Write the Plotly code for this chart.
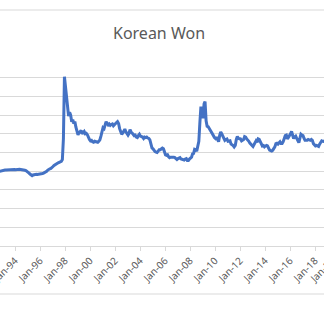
import pandas as pd
import plotly.graph_objects as go

# Monthly KRW per USD (Jan..Dec of each year)
start_year = 1992
krw_1992 = [770, 772, 775, 778, 782, 785, 790, 795, 798, 803, 806, 805]
krw_1993 = [808, 810, 812, 812, 813, 815, 818, 820, 818, 820, 818, 818]
krw_1994 = [815, 818, 820, 820, 820, 818, 818, 815, 812, 810, 806, 800]
krw_1995 = [790, 780, 770, 755, 752, 760, 765, 768, 767, 765, 766, 768]
krw_1996 = [772, 775, 776, 780, 784, 790, 800, 812, 822, 826, 830, 836]
krw_1997 = [850, 862, 870, 880, 885, 890, 895, 900, 905, 925, 1150, 1810]
krw_1998 = [1700, 1560, 1450, 1390, 1430, 1400, 1330, 1350, 1310, 1330, 1270, 1220]
krw_1999 = [1190, 1210, 1220, 1235, 1200, 1215, 1225, 1200, 1205, 1190, 1155, 1140]
krw_2000 = [1125, 1130, 1115, 1110, 1120, 1118, 1115, 1110, 1120, 1135, 1175, 1235]
krw_2001 = [1265, 1255, 1300, 1330, 1310, 1295, 1305, 1290, 1300, 1305, 1285, 1300]
krw_2002 = [1315, 1320, 1330, 1310, 1255, 1210, 1195, 1210, 1225, 1250, 1220, 1205]
krw_2003 = [1185, 1205, 1245, 1220, 1200, 1195, 1180, 1185, 1165, 1160, 1180, 1195]
krw_2004 = [1175, 1170, 1165, 1150, 1165, 1160, 1165, 1155, 1150, 1135, 1090, 1050]
krw_2005 = [1040, 1020, 1010, 1005, 1000, 1015, 1030, 1030, 1040, 1048, 1040, 1015]
krw_2006 = [975, 970, 975, 955, 945, 950, 950, 955, 950, 945, 935, 925]
krw_2007 = [935, 940, 945, 930, 925, 928, 920, 930, 935, 915, 915, 930]
krw_2008 = [945, 950, 985, 990, 1035, 1030, 1015, 1060, 1120, 1320, 1490, 1380]
krw_2009 = [1380, 1520, 1545, 1340, 1280, 1275, 1260, 1240, 1220, 1200, 1170, 1160]
krw_2010 = [1150, 1165, 1140, 1115, 1180, 1220, 1200, 1175, 1165, 1130, 1140, 1145]
krw_2011 = [1120, 1125, 1125, 1090, 1085, 1075, 1060, 1075, 1140, 1170, 1150, 1150]
krw_2012 = [1145, 1125, 1130, 1140, 1170, 1165, 1145, 1135, 1120, 1100, 1085, 1075]
krw_2013 = [1065, 1085, 1100, 1125, 1110, 1145, 1140, 1120, 1090, 1070, 1075, 1060]
krw_2014 = [1070, 1075, 1070, 1045, 1025, 1020, 1015, 1025, 1040, 1060, 1095, 1100]
krw_2015 = [1090, 1100, 1115, 1095, 1095, 1115, 1145, 1180, 1185, 1145, 1160, 1175]
krw_2016 = [1200, 1225, 1190, 1150, 1165, 1175, 1150, 1120, 1105, 1150, 1195, 1185]
krw_2017 = [1180, 1150, 1130, 1130, 1130, 1140, 1135, 1130, 1140, 1130, 1095, 1080]
krw_2018 = [1070, 1075, 1068, 1065, 1090, 1115, 1125, 1120, 1118, 1125, 1130, 1120]
krw_2019 = [1125, 1125, 1130, 1150, 1180, 1175, 1180, 1205, 1195, 1185, 1165, 1170]

yearly = [krw_1992, krw_1993, krw_1994, krw_1995, krw_1996, krw_1997, krw_1998,
          krw_1999, krw_2000, krw_2001, krw_2002, krw_2003, krw_2004, krw_2005,
          krw_2006, krw_2007, krw_2008, krw_2009, krw_2010, krw_2011, krw_2012,
          krw_2013, krw_2014, krw_2015, krw_2016, krw_2017, krw_2018, krw_2019]
values = [v for yr in yearly for v in yr]
dates = pd.date_range(f"{start_year}-01-01", periods=len(values), freq="MS") + pd.Timedelta(days=14)

title_text = "Korean Won"
tick_start = "1994-01-01"

fig = go.Figure()
fig.add_trace(go.Scatter(x=dates, y=values, mode="lines",
                         line=dict(color="#4472C4", width=3), hoverinfo="skip"))

grey = "#D9D9D9"
fig.update_layout(
    width=324, height=310,
    margin=dict(l=0, r=0, t=59, b=64, pad=0),
    paper_bgcolor="white", plot_bgcolor="white",
    showlegend=False,
    xaxis=dict(type="date", range=["1992-10-19", "2018-09-20"],
               tick0=tick_start, dtick="M24", tickformat="%b-%y",
               tickangle=-45, ticks="outside", ticklen=4, tickcolor=grey,
               showline=True, linecolor=grey, linewidth=1, showgrid=False,
               zeroline=False, ticklabeloverflow="allow", automargin=False,
               tickfont=dict(family="Noto Sans", size=10, color="#595959")),
    yaxis=dict(range=[0, 2000], dtick=200, showgrid=True, gridcolor=grey,
               gridwidth=1, showticklabels=False, zeroline=False, showline=False,
               ticks=""),
    annotations=[
        dict(text=title_text, xref="paper", yref="paper", x=0.4907, y=1.139,
             xanchor="center", yanchor="middle", showarrow=False,
             font=dict(family="Noto Sans", size=16, color="#595959")),
        dict(text="Jan-20", xref="paper", yref="paper", x=1.05, y=-0.03,
             xanchor="right", yanchor="top", textangle=-45, showarrow=False,
             font=dict(family="Noto Sans", size=10, color="#595959")),
    ],
    shapes=[
        dict(type="line", xref="paper", yref="paper", x0=-0.1, x1=1.1,
             y0=1.262, y1=1.262, line=dict(color=grey, width=1)),
        dict(type="line", xref="paper", yref="paper", x0=-0.1, x1=1.1,
             y0=-0.2567, y1=-0.2567, line=dict(color=grey, width=1)),
    ],
)

fig.write_html("out.html")
